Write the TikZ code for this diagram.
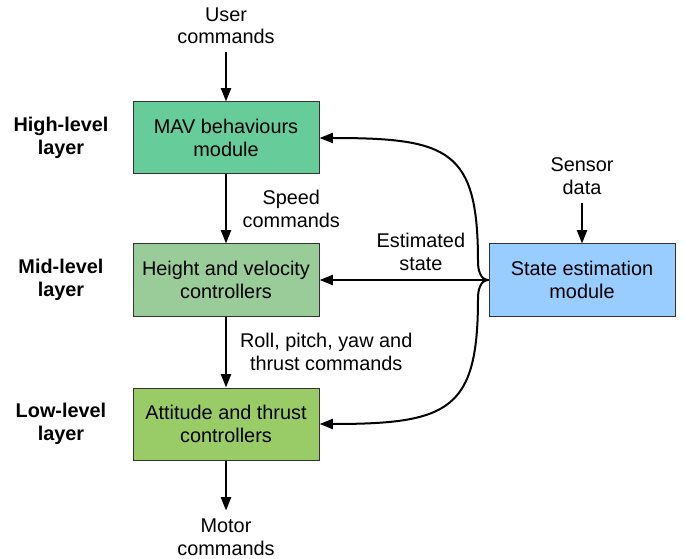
\documentclass[tikz,border=0pt]{standalone}
\usepackage{fontspec}
\setmainfont{Liberation Sans}
\usetikzlibrary{arrows.meta}
\definecolor{highBg}{RGB}{102,204,153}
\definecolor{midBg}{RGB}{153,204,153}
\definecolor{lowBg}{RGB}{153,204,102}
\definecolor{stateBg}{RGB}{153,204,255}
\definecolor{borderCol}{RGB}{51,51,51}
\tikzset{
  blk/.style={rectangle,draw=borderCol,line width=0.75pt,
    minimum width=139.5pt,minimum height=54pt,
    font=\fontsize{14.9}{16.9}\selectfont,align=center,inner sep=2pt},
  layer/.style={font=\fontsize{14.9}{16.9}\selectfont\bfseries,
    align=center,inner sep=1pt},
  lbl/.style={font=\fontsize{14.9}{16.9}\selectfont,align=center,
    inner sep=1pt},
  term/.style={lbl,inner sep=6pt},
  arr/.style={-{Triangle[length=10pt,width=7.5pt]},line width=1.5pt},
}

\begin{document}
\begin{tikzpicture}[x=0.75pt,y=-0.75pt]
\useasboundingbox (0,0) rectangle (684,559);

% =====================================================================
%  LAYERS — three control blocks in one column
% =====================================================================
\node[blk,fill=highBg]  (mav) at (226,138) {MAV behaviours\\module};
\node[blk,fill=midBg]   (hvc) at (226,280) {Height and velocity\\controllers};
\node[blk,fill=lowBg]   (atc) at (226,424) {Attitude and thrust\\controllers};

% --- layer names (left column) ---
\node[layer] (hl) at (61,138) {High-level\\layer};
\node[layer] (ml) at (61,280) {Mid-level\\layer};
\node[layer] (ll) at (61,424) {Low-level\\layer};

% --- inputs and outputs ---
\node[term] (usr) at (226,26)  {User\\commands};
\node[term] (mot) at (226,537) {Motor\\commands};

\draw[arr] (usr) -- (mav);
\draw[arr] (mav) -- node[lbl,right=10.8pt] {Speed\\commands} (hvc);
\draw[arr] (hvc) -- node[lbl,right=8.8pt] {Roll, pitch, yaw and\\thrust commands} (atc);
\draw[arr] (atc) -- (mot);

% =====================================================================
%  STATE ESTIMATION — right side, feeds all three layers
% =====================================================================
\node[blk,fill=stateBg] (sem) at (582,280) {State estimation\\module};
\node[term] (sen) at (582,176) {Sensor\\data};
\draw[arr] (sen) -- (sem);

% brace-like split just left of the module
\coordinate (jt) at (478,262);
\coordinate (jb) at (478,298);

\draw[arr] (sem.west) -- node[lbl,above=5.4pt,pos=0.4] {Estimated\\state} (hvc.east);
\draw[arr] (sem.west) .. controls +(-9,0) and +(0,6) .. (jt)
  .. controls +(0,-112) and +(130,0) .. (mav.east);
\draw[arr] (sem.west) .. controls +(-9,0) and +(0,-6) .. (jb)
  .. controls +(0,112) and +(130,0) .. (atc.east);

\end{tikzpicture}
\end{document}
